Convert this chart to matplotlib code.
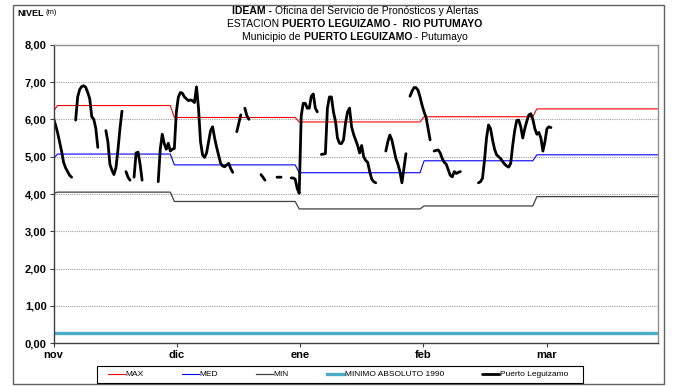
import numpy as np
import matplotlib
matplotlib.use('Agg')
import matplotlib.pyplot as plt
from matplotlib.patches import Rectangle

plt.rcParams['font.family'] = ['Liberation Sans', 'DejaVu Sans']

# monthly reference levels (nov .. mar)
meses = ['nov', 'dic', 'ene', 'feb', 'mar']
dias_mes = [30, 31, 31, 28, 31]
nivel_max = [6.37, 6.05, 5.93, 6.07, 6.28]
nivel_med = [5.07, 4.78, 4.57, 4.89, 5.05]
nivel_min = [4.05, 3.80, 3.60, 3.68, 3.93]
primer_dia = {'max': 6.22, 'med': 4.95, 'min': 4.02}
minimo_abs = 0.27

# Puerto Leguizamo readings, two per day, None = no data
nivel = (
    [6.03, 5.85, 5.65, 5.4, 5.15, 4.85, 4.7, 4.6, 4.5, 4.45] + [None] +
    [5.98, 6.6, 6.8, 6.88, 6.9, 6.86, 6.72, 6.55, 6.07, 6.0, 5.76, 5.25] + [None] * 3 +
    [5.7, 5.4, 4.8, 4.64, 4.52, 4.7, 5.18, 5.75, 6.22] + [None] +
    [4.6, 4.45, 4.37] + [None] +
    [4.45, 5.1, 5.12, 4.8, 4.37] + [None] * 7 +
    [4.33, 5.2, 5.6, 5.35, 5.2, 5.36, 5.15, 5.2, 5.22, 6.2, 6.6, 6.72, 6.7, 6.6,
     6.55, 6.5, 6.52, 6.5, 6.45, 6.87, 6.3, 5.4, 5.05, 4.98, 5.1, 5.4, 5.7, 5.8,
     5.5, 5.25, 5.04, 4.82, 4.75, 4.73, 4.78, 4.82, 4.68, 4.58] + [None] +
    [5.67, 5.9, 6.12] + [None] +
    [6.3, 6.1, 6.0] + [None] * 5 +
    [4.52, 4.45, 4.37] + [None] * 5 +
    [4.45, 4.45, 4.45] + [None] * 4 +
    [4.43, 4.43, 4.4, 4.15, 4.02, 6.1, 6.43, 6.43, 6.3, 6.3, 6.62, 6.68, 6.3, 6.2] + [None] +
    [5.06, 5.07, 5.08, 6.3, 6.6, 6.6, 6.2, 5.95, 5.5, 5.36, 5.35, 5.45, 5.9, 6.2,
     6.3, 5.8, 5.6, 5.45, 5.3, 5.1, 5.3, 5.0, 4.9, 4.85, 4.6, 4.4, 4.33, 4.3] + [None] * 4 +
    [5.15, 5.4, 5.58, 5.45, 5.2, 4.95, 4.8, 4.6, 4.3, 4.7, 5.08] + [None] +
    [6.62, 6.75, 6.85, 6.85, 6.78, 6.6, 6.38, 6.2, 6.05, 5.75, 5.45] + [None] +
    [5.15, 5.17, 5.18, 5.1, 4.95, 4.85, 4.8, 4.65, 4.5, 4.46, 4.6, 4.55, 4.58, 4.6] + [None] * 8 +
    [4.3, 4.33, 4.42, 4.9, 5.5, 5.85, 5.75, 5.45, 5.2, 5.05, 5.0, 4.95, 4.87, 4.8,
     4.75, 4.72, 4.82, 5.3, 5.7, 5.97, 5.98, 5.8, 5.5, 5.75, 5.95, 6.12, 6.15, 6.0,
     5.75, 5.6, 5.65, 5.5, 5.15, 5.4, 5.75, 5.8, 5.78]
)

# daily series of the reference levels
def diario(vals, first):
    d = np.repeat(vals, dias_mes).astype(float)
    d[0] = first
    return d

dias = np.arange(sum(dias_mes))
serie_max = diario(nivel_max, primer_dia['max'])
serie_med = diario(nivel_med, primer_dia['med'])
serie_min = diario(nivel_min, primer_dia['min'])
serie_abs = np.full(len(dias), minimo_abs)

t_nivel = np.arange(len(nivel)) / 2.0
y_nivel = np.array([np.nan if v is None else v for v in nivel])

W, H = 674, 386
fig = plt.figure(figsize=(W / 100, H / 100), dpi=100)
ax = fig.add_axes([53.5 / W, 1 - 343.3 / H, (657.7 - 53.5) / W, (343.3 - 44.7) / H])

ax.plot(dias, serie_max, color='#ff0000', lw=0.8, label='MAX')
ax.plot(dias, serie_med, color='#0000ff', lw=0.8, label='MED')
ax.plot(dias, serie_min, color='#404040', lw=0.9, label='MIN')
ax.plot(dias, serie_abs, color='#4bacc6', lw=2.4, label='MINIMO ABSOLUTO 1990')
ax.plot(t_nivel, y_nivel, color='black', lw=2.0, label='Puerto Leguizamo',
        solid_capstyle='round', solid_joinstyle='round')

ax.set_xlim(0, 150)
ax.set_ylim(0, 8)
yt = np.arange(0, 9)
ax.set_yticks(yt)
ax.set_yticklabels([f'{v:.2f}'.replace('.', ',') for v in yt], fontsize=8, fontweight='bold')
tick_pos = [0, 30.6, 61.2, 91.8, 122.4]
ax.set_xticks(tick_pos)
ax.set_xticklabels(meses, fontsize=8, fontweight='bold')
ax.tick_params(axis='both', direction='out', length=3, width=0.8, color='#404040', pad=2)
ax.yaxis.grid(True, color='#a0a0a0', lw=0.8, linestyle=(0, (1, 1)))
ax.set_axisbelow(True)
for s in ['left', 'bottom']:
    ax.spines[s].set_color('#404040')
    ax.spines[s].set_linewidth(1.0)
for s in ['top', 'right']:
    ax.spines[s].set_color('#909090')
    ax.spines[s].set_linewidth(1.0)

# outer chart frame and legend box
fig.patches.append(Rectangle((13 / W, 1 - 384 / H), (664 - 13) / W, (384 - 5) / H,
                             transform=fig.transFigure, fill=False, ec='#606060', lw=1.0))
fig.patches.append(Rectangle((97 / W, 1 - 383 / H), (583 - 97) / W, (383 - 366) / H,
                             transform=fig.transFigure, fill=False, ec='black', lw=0.8))

# titles with mixed weights
renderer = fig.canvas.get_renderer()

def rich(xc, yc, parts, size):
    items = []
    total = 0
    for s, w in parts:
        t = fig.text(0, 1 - yc / H, s, fontsize=size, fontweight=w, va='center', ha='left')
        wd = t.get_window_extent(renderer).width
        items.append((t, wd))
        total += wd
    x0 = xc - total / 2
    for t, wd in items:
        t.set_x(x0 / W)
        x0 += wd

rich(355, 11, [('IDEAM - ', 'bold'), ('Oficina del Servicio de Pronósticos y Alertas', 'normal')], 7.5)
rich(355, 24, [('ESTACION ', 'normal'), ('PUERTO LEGUIZAMO -  RIO PUTUMAYO', 'bold')], 7.5)
rich(355, 37, [('Municipio de ', 'normal'), ('PUERTO LEGUIZAMO', 'bold'), (' - Putumayo', 'normal')], 7.5)

fig.text(17 / W, 1 - 13 / H, 'NIVEL', fontsize=6.5, fontweight='bold', va='center')
fig.text(46 / W, 1 - 13 / H, '(m)', fontsize=5.5, va='center')

leg = fig.legend(loc='center', bbox_to_anchor=(338 / W, 1 - 374.5 / H), ncol=5,
                 fontsize=6, frameon=False, handlelength=2.0,
                 handletextpad=0.1, columnspacing=4.6, borderpad=0.2)

fig.savefig('out.png', dpi=100)
